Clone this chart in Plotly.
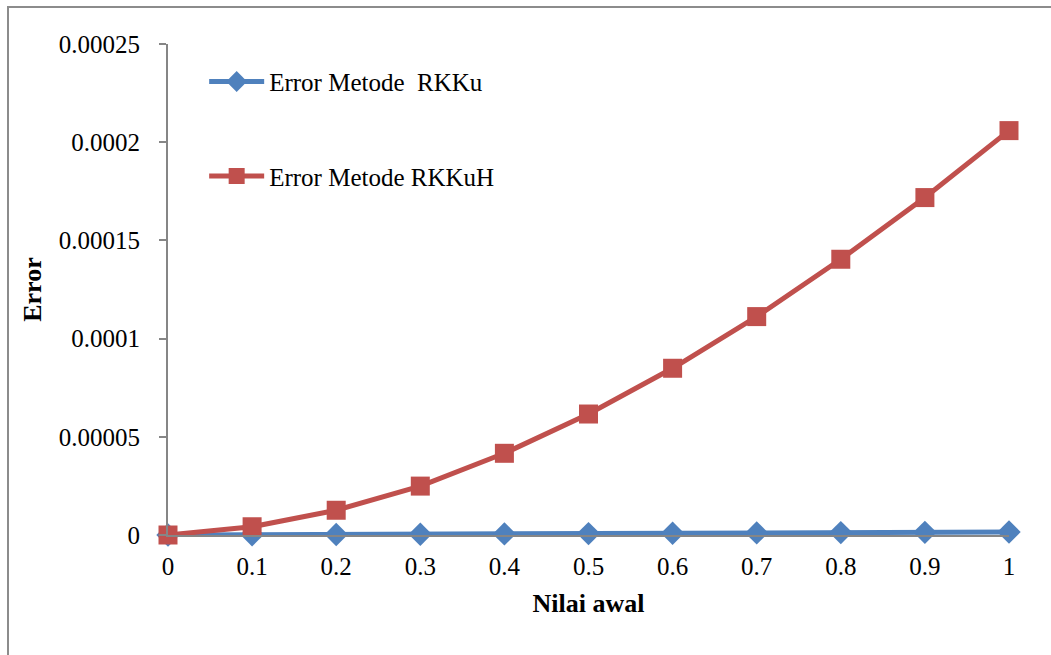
import plotly.graph_objects as go

# Initial value (x) and absolute error of each method
nilai_awal = [0, 0.1, 0.2, 0.3, 0.4, 0.5, 0.6, 0.7, 0.8, 0.9, 1.0]
error_rkku = [0, 1.2e-7, 2.6e-7, 4.1e-7, 5.6e-7, 7.2e-7, 8.9e-7, 1.06e-6, 1.23e-6, 1.35e-6, 1.5e-6]
error_rkkuh = [0, 4.2e-6, 1.26e-5, 2.49e-5, 4.16e-5, 6.16e-5, 8.49e-5,
               1.112e-4, 1.404e-4, 1.718e-4, 2.059e-4]

x_tick_vals = nilai_awal
x_tick_text = ["0", "0.1", "0.2", "0.3", "0.4", "0.5", "0.6", "0.7", "0.8", "0.9", "1"]
y_tick_vals = [0, 0.00005, 0.0001, 0.00015, 0.0002, 0.00025]
y_tick_text = ["0", "0.00005", "0.0001", "0.00015", "0.0002", "0.00025"]

BLUE = "#4F81BD"
RED = "#C0504D"
AXIS_GREY = "#868686"
FONT = "Liberation Serif"

W, H = 1051, 655
ML, MR, MT, MB = 168, 42, 44, 120

fig = go.Figure()
fig.add_trace(go.Scatter(
    x=nilai_awal, y=error_rkku, mode="lines+markers",
    name="Error Metode  RKKu", legendgroup="a",
    line=dict(color=BLUE, width=5),
    marker=dict(symbol="diamond", size=18, color=BLUE),
    cliponaxis=False,
))
fig.add_trace(go.Scatter(
    x=nilai_awal, y=error_rkkuh, mode="lines+markers",
    name="Error Metode RKKuH", legendgroup="b",
    line=dict(color=RED, width=5),
    marker=dict(symbol="square", size=19, color=RED),
    cliponaxis=False,
))

# chart-area frame, expressed in paper coordinates of the plot area
pw, ph = W - ML - MR, H - MT - MB
fx0 = (8 - ML) / pw
fx1 = (W + 5 - ML) / pw
fy1 = 1 + (MT - 7) / ph
fy0 = -(MB + 5) / ph
fig.add_shape(type="rect", xref="paper", yref="paper",
              x0=fx0, x1=fx1, y0=fy0, y1=fy1,
              line=dict(color="#8C8C8C", width=2), fillcolor="rgba(0,0,0,0)",
              layer="below")

fig.update_layout(
    width=W, height=H,
    margin=dict(l=ML, r=MR, t=MT, b=MB),
    paper_bgcolor="white", plot_bgcolor="white",
    font=dict(family=FONT, size=25, color="black"),
    showlegend=True,
    legend=dict(
        x=0.043, y=0.97, xanchor="left", yanchor="top",
        bgcolor="rgba(0,0,0,0)", font=dict(size=25, family=FONT),
        tracegroupgap=59, itemwidth=55,
    ),
    xaxis=dict(
        range=[0, 1], tickmode="array", tickvals=x_tick_vals, ticktext=x_tick_text,
        showgrid=False, zeroline=False, showline=True, linecolor=AXIS_GREY, linewidth=2,
        ticks="", ticklabelstandoff=8,
        tickfont=dict(size=25, family=FONT),
        title=dict(text="<b>Nilai awal</b>", font=dict(size=26, family=FONT), standoff=15),
    ),
    yaxis=dict(
        range=[0, 0.00025], tickmode="array", tickvals=y_tick_vals, ticktext=y_tick_text,
        showgrid=False, zeroline=False, showline=True, linecolor=AXIS_GREY, linewidth=2,
        ticks="outside", ticklen=7, tickcolor=AXIS_GREY, tickwidth=2,
        ticklabelstandoff=14,
        tickfont=dict(size=25, family=FONT),
        title=dict(text="<b>Error</b>", font=dict(size=26, family=FONT), standoff=10),
    ),
)

fig.write_html("out.html")
